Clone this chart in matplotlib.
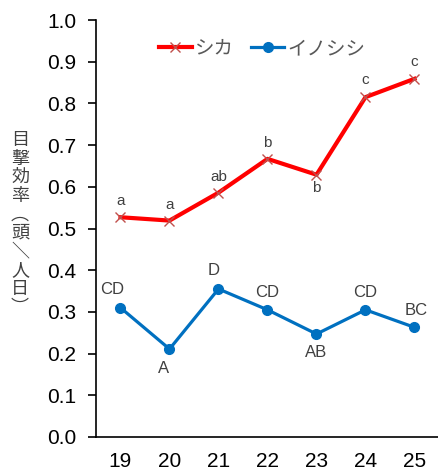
import matplotlib
matplotlib.use("Agg")
import matplotlib.pyplot as plt

plt.rcParams['font.family'] = ['Liberation Sans', 'Noto Sans CJK JP', 'DejaVu Sans']

years = ["19", "20", "21", "22", "23", "24", "25"]
shika = [0.527, 0.519, 0.586, 0.667, 0.629, 0.815, 0.859]
inoshishi = [0.310, 0.211, 0.355, 0.305, 0.247, 0.305, 0.263]
shika_letters = ["a", "a", "ab", "b", "b", "c", "c"]
inoshishi_letters = ["CD", "A", "D", "CD", "AB", "CD", "BC"]
y_ticks = [0.0, 0.1, 0.2, 0.3, 0.4, 0.5, 0.6, 0.7, 0.8, 0.9, 1.0]
ylabel_chars = ["目", "撃", "効", "率", "︵", "頭", "＼", "人", "日", "︶"]

# label placement: (dx, dy) in pixels, dy>0 means above
shika_off = [(0, 16), (0, 16), (0, 16), (0, 16), (0, -13), (0, 17), (0, 17)]
ino_off = [(-8, 18), (-6, -19), (-5, 18), (0, 17), (0, -18), (0, 17), (2, 17)]

fig = plt.figure(figsize=(4.39, 4.75), dpi=100)
ax = fig.add_axes([96 / 439, 1 - 437 / 475, 1 - 96 / 439, (437 - 20) / 475])

x = list(range(len(years)))
red = "#ff0000"
blue = "#0070c0"
ax.plot(x, shika, color=red, lw=3.0, marker="x", ms=7, mew=1.0, mec="#c0504d",
        label="シカ", zorder=3)
ax.plot(x, inoshishi, color=blue, lw=2.3, marker="o", ms=7, mfc=blue, mec=blue,
        label="イノシシ", zorder=3)

txt = "#404040"
for xi, v, s, (dx, dy) in zip(x, shika, shika_letters, shika_off):
    ax.annotate(s, (xi, v), xytext=(dx, dy), textcoords="offset pixels",
                ha="center", va="center", fontsize=11, color=txt)
for xi, v, s, (dx, dy) in zip(x, inoshishi, inoshishi_letters, ino_off):
    ax.annotate(s, (xi, v), xytext=(dx, dy), textcoords="offset pixels",
                ha="center", va="center", fontsize=12, color=txt)

ax.set_xlim(-0.5, len(years) - 0.5)
ax.set_ylim(0, 1.0)
ax.set_xticks(x)
ax.set_xticklabels(years)
ax.set_yticks(y_ticks)
ax.set_yticklabels([f"{t:.1f}" for t in y_ticks])
ax.tick_params(axis="x", length=0, pad=11, labelsize=15, colors="#000000")
ax.tick_params(axis="y", length=6, width=1.2, direction="out", pad=8, labelsize=15,
               colors="#000000")
for side in ("top", "right"):
    ax.spines[side].set_visible(False)
for side in ("left", "bottom"):
    ax.spines[side].set_linewidth(1.2)
    ax.spines[side].set_color("#000000")

leg = ax.legend(loc="upper left", bbox_to_anchor=(0.16, 0.97), ncol=2, frameon=False,
                fontsize=14, handlelength=1.7, handletextpad=0.15, columnspacing=0.9,
                labelcolor="#595959", borderaxespad=0)

# vertical axis title, one character per line
y0 = 140
for i, ch in enumerate(ylabel_chars):
    fig.text(20 / 439, 1 - (y0 + i * 18.6) / 475, ch, ha="center", va="center",
             fontsize=13, color="#404040", family=["Noto Sans CJK JP", "DejaVu Sans"])

fig.savefig("out.png", dpi=100)
